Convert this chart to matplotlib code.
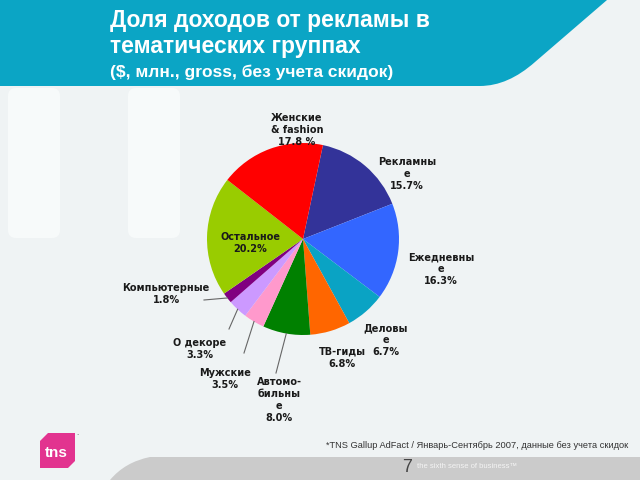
import matplotlib
matplotlib.use('Agg')
import matplotlib.pyplot as plt
from matplotlib.path import Path
from matplotlib.patches import PathPatch, FancyBboxPatch
import numpy as np

# ---- data ----
categories = ['Рекламные', 'Ежедневные', 'Деловые', 'ТВ-гиды', 'Автомобильные',
              'Мужские', 'О декоре', 'Компьютерные', 'Остальное', 'Женские & fashion']
shares = [15.7, 16.3, 6.7, 6.8, 8.0, 3.5, 3.3, 1.8, 20.2, 17.8]
label_texts = ['Рекламны\nе\n15.7%', 'Ежедневны\nе\n16.3%', 'Деловы\nе\n6.7%',
               'ТВ-гиды\n6.8%', 'Автомо-\nбильны\nе\n8.0%', 'Мужские\n3.5%',
               'О декоре\n3.3%', 'Компьютерные\n1.8%', 'Остальное\n20.2%',
               'Женские\n& fashion\n17.8 %']
colors = ['#333399', '#3366ff', '#0aa3c4', '#ff6600', '#008000',
          '#ff99cc', '#cc99ff', '#800080', '#99cc00', '#ff0000']

title_lines = ['Доля доходов от рекламы в', 'тематических группах']
subtitle = '($, млн., gross, без учета скидок)'
footnote = '*TNS Gallup AdFact / Январь-Сентябрь 2007, данные без учета скидок'
page_no = '7'
slogan = 'the sixth sense of business™'

# ---- layout (pixels) ----
CX, CY, R = 303, 239, 96
label_px = [(407, 174), (441, 269), (386, 340), (342, 358), (279, 400),
            (225, 379), (200, 349), (166, 294), (250, 243), (297, 130)]
leader_outer = {4: (276, 373), 5: (244, 353), 6: (229, 329), 7: (204, 300)}

fig = plt.figure(figsize=(6.4, 4.8), dpi=100)
fig.patch.set_facecolor('#eff3f4')

bg = fig.add_axes([0, 0, 1, 1])
bg.set_xlim(0, 640)
bg.set_ylim(480, 0)
bg.axis('off')

# faint white watermark blocks
for (x0, y0, w, h) in [(8, 88, 52, 150), (128, 88, 52, 150)]:
    bg.add_patch(FancyBboxPatch((x0, y0), w, h, boxstyle='round,pad=0,rounding_size=8',
                                fc='#f7fafa', ec='none', zorder=1))

# top banner
verts = [(0, 0), (607, 0), (535, 62), (508, 86), (480, 86), (0, 86), (0, 0)]
codes = [Path.MOVETO, Path.LINETO, Path.LINETO, Path.CURVE3, Path.CURVE3,
         Path.LINETO, Path.CLOSEPOLY]
bg.add_patch(PathPatch(Path(verts, codes), fc='#0ba5c5', ec='none', zorder=2))

# bottom grey band
verts = [(110, 480), (125, 462), (150, 457), (640, 457), (640, 480), (110, 480)]
codes = [Path.MOVETO, Path.CURVE3, Path.CURVE3, Path.LINETO, Path.LINETO, Path.CLOSEPOLY]
bg.add_patch(PathPatch(Path(verts, codes), fc='#cbcbcb', ec='none', zorder=2))

# tns logo
lv = [(48, 433), (75, 433), (75, 461), (68, 468), (40, 468), (40, 441), (48, 433)]
bg.add_patch(PathPatch(Path(lv), fc='#e2338f', ec='none', zorder=3))
bg.text(56, 457, 'tns', color='white', fontsize=11, fontweight='bold',
        family='Liberation Sans', ha='center', va='baseline', zorder=4)
bg.text(77, 433, '.', color='#555555', fontsize=5, ha='center', va='center', zorder=4)

# titles
tfam = ['Liberation Sans', 'DejaVu Sans']
bg.text(110, 27, title_lines[0], color='white', fontsize=16.5, fontweight='bold',
        family=tfam, va='baseline', ha='left', zorder=5)
bg.text(110, 53, title_lines[1], color='white', fontsize=16.5, fontweight='bold',
        family=tfam, va='baseline', ha='left', zorder=5)
bg.text(110, 77, subtitle, color='white', fontsize=12.5, fontweight='bold',
        family=tfam, va='baseline', ha='left', zorder=5)

# footnote and footer
bg.text(628, 445, footnote, color='#333333', fontsize=6.7, family=tfam,
        ha='right', va='center', zorder=5)
bg.text(407, 467, page_no, color='#444444', fontsize=13, family=tfam,
        ha='center', va='center', zorder=6)
bg.text(417, 466, slogan, color='#f4f4f4', fontsize=5.5, family=tfam,
        ha='left', va='center', zorder=5)

# ---- pie ----
ax = fig.add_axes([0, 0, 1, 1], zorder=3)
ax.patch.set_alpha(0)
wedges, _ = ax.pie(shares, colors=colors, startangle=78, counterclock=False,
                   radius=1.0, center=(0, 0),
                   wedgeprops=dict(linewidth=0, edgecolor='none'))
ax.set_aspect('auto')
ax.set_xlim(-CX / R, (640 - CX) / R)
ax.set_ylim(-(480 - CY) / R, CY / R)
ax.axis('off')


def px2d(x, y):
    return ((x - CX) / R, (CY - y) / R)


for i, w in enumerate(wedges):
    x, y = px2d(*label_px[i])
    ax.text(x, y, label_texts[i], ha='center', va='center', fontsize=7,
            fontweight='bold', color='#1a1a1a', family='DejaVu Sans',
            linespacing=1.25, zorder=5)
    if i in leader_outer:
        mid = np.deg2rad((w.theta1 + w.theta2) / 2)
        ix, iy = np.cos(mid) * 1.0, np.sin(mid) * 1.0
        ox, oy = px2d(*leader_outer[i])
        ax.plot([ix, ox], [iy, oy], color='#666666', lw=0.8, zorder=4)

fig.savefig('out.png', dpi=100)
